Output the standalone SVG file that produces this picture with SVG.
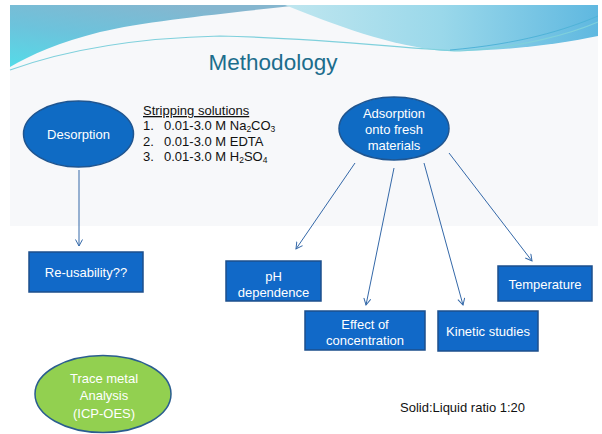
<svg xmlns="http://www.w3.org/2000/svg" width="602" height="434" viewBox="0 0 602 434">
<defs>
<linearGradient id="gl" x1="0" y1="1" x2="0.6" y2="0">
<stop offset="0" stop-color="#55dbe8"/>
<stop offset="0.5" stop-color="#6cc3dc"/>
<stop offset="1" stop-color="#85b6cf"/>
</linearGradient>
<linearGradient id="gr" x1="0" y1="0" x2="1" y2="0">
<stop offset="0" stop-color="#bfe6ef"/>
<stop offset="0.5" stop-color="#9ad8ea"/>
<stop offset="1" stop-color="#5fb8e0"/>
</linearGradient>
<marker id="ah" markerWidth="10" markerHeight="10" refX="7" refY="4" orient="auto" markerUnits="userSpaceOnUse">
<path d="M0.5,0.5 L7,4 L0.5,7.5" fill="none" stroke="#3468a8" stroke-width="1"/>
</marker>
<style>
.ell{fill:#0f6bc4;stroke:#1f5590;stroke-width:1.5}
.box{fill:#1169c8;stroke:#1d4f8c;stroke-width:1.5}
.grn{fill:#92d050;stroke:#2a5d8f;stroke-width:1.5}
.wt{font-family:"Liberation Sans",Arial,sans-serif;font-size:13px;fill:#ffffff;text-anchor:middle}
.bk{font-family:"Liberation Sans",Arial,sans-serif;font-size:13px;fill:#111111}
.sub{font-size:8.5px}
.con{fill:none;stroke:#3468a8;stroke-width:1;marker-end:url(#ah)}
</style>
</defs>
<rect x="0" y="0" width="602" height="434" fill="#ffffff"/>
<rect x="10" y="5" width="588" height="221" fill="#f7f8fa"/>
<path d="M10,5 H300 C240,12 150,20 100,32 C60,42 30,55 10,67 Z" fill="url(#gl)"/>
<path d="M285,5 H598 V36 C560,44 500,52 445,51 C390,46 335,25 285,5 Z" fill="url(#gr)"/>
<path d="M10,70 C60,52 130,38 220,36 C320,38 400,48 460,51 C520,48 570,34 598,22" fill="none" stroke="#7fd0dc" stroke-width="1.2"/>
<path d="M450,50 C520,44 565,30 598,16" fill="none" stroke="#4fb3d8" stroke-width="1"/>
<text x="273" y="70" font-family="Liberation Sans,Arial,sans-serif" font-size="22.5" fill="#1c6d8c" text-anchor="middle">Methodology</text>

<g id="connectors">
<line class="con" x1="79" y1="170" x2="79" y2="246"/>
<line class="con" x1="355" y1="163" x2="296" y2="249"/>
<line class="con" x1="394" y1="168" x2="366" y2="305"/>
<line class="con" x1="424" y1="163" x2="463" y2="305"/>
<line class="con" x1="449" y1="153" x2="532" y2="261"/>
</g>

<g id="desorption">
<ellipse class="ell" cx="78.5" cy="134" rx="55" ry="33"/>
<text class="wt" x="78.5" y="138.5">Desorption</text>
</g>

<g id="stripping">
<text class="bk" x="143" y="115" text-decoration="underline">Stripping solutions</text>
<text class="bk" x="143" y="130">1.</text>
<text class="bk" x="164" y="130">0.01-3.0 M Na<tspan class="sub" dy="2">2</tspan><tspan dy="-2">CO</tspan><tspan class="sub" dy="2">3</tspan></text>
<text class="bk" x="143" y="146">2.</text>
<text class="bk" x="164" y="146">0.01-3.0 M EDTA</text>
<text class="bk" x="143" y="161">3.</text>
<text class="bk" x="164" y="161">0.01-3.0 M H<tspan class="sub" dy="2">2</tspan><tspan dy="-2">SO</tspan><tspan class="sub" dy="2">4</tspan></text>
</g>

<g id="adsorption">
<ellipse class="ell" cx="394" cy="128.5" rx="55" ry="31.5"/>
<text class="wt" x="394" y="118">Adsorption</text>
<text class="wt" x="394" y="134">onto fresh</text>
<text class="wt" x="394" y="150">materials</text>
</g>

<g id="reusability">
<rect class="box" x="29" y="252" width="114" height="40"/>
<text class="wt" x="86" y="277" font-size="14.5">Re-usability??</text>
</g>

<g id="ph">
<rect class="box" x="226" y="261" width="95" height="40"/>
<text class="wt" x="273.5" y="281">pH</text>
<text class="wt" x="273.5" y="297">dependence</text>
</g>

<g id="effect">
<rect class="box" x="305" y="311" width="120" height="39"/>
<text class="wt" x="365" y="328.5">Effect of</text>
<text class="wt" x="365" y="345">concentration</text>
</g>

<g id="kinetic">
<rect class="box" x="438" y="311" width="100" height="40"/>
<text class="wt" x="488" y="335.5">Kinetic studies</text>
</g>

<g id="temperature">
<rect class="box" x="498" y="266" width="94" height="35"/>
<text class="wt" x="545" y="288.5">Temperature</text>
</g>

<g id="trace">
<ellipse class="grn" cx="103" cy="394" rx="68" ry="38.5"/>
<text class="wt" x="104" y="383" font-size="14.5">Trace metal</text>
<text class="wt" x="104" y="400" font-size="14.5">Analysis</text>
<text class="wt" x="104" y="418" font-size="14.5">(ICP-OES)</text>
</g>

<g id="ratio">
<text class="bk" x="400" y="412" font-size="14.5">Solid:Liquid ratio 1:20</text>
</g>
</svg>
